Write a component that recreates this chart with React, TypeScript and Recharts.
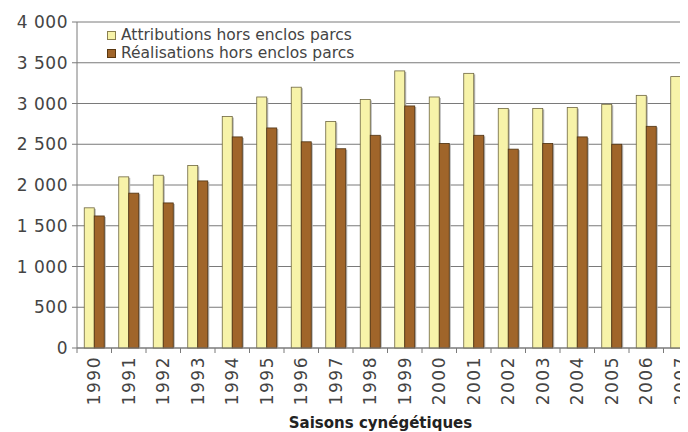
import { BarChart, Bar, XAxis, YAxis, CartesianGrid, Label } from 'recharts';

const years = ['1990', '1991', '1992', '1993', '1994', '1995', '1996', '1997', '1998', '1999', '2000', '2001', '2002', '2003', '2004', '2005', '2006', '2007'];
const attributions = [1720, 2100, 2120, 2240, 2840, 3080, 3200, 2780, 3050, 3400, 3080, 3370, 2940, 2940, 2950, 2990, 3100, 3330];
const realisations = [1620, 1900, 1780, 2050, 2590, 2700, 2530, 2445, 2610, 2970, 2510, 2610, 2440, 2510, 2590, 2500, 2720, 2880];
const yTicks = [0, 500, 1000, 1500, 2000, 2500, 3000, 3500, 4000];

const data = years.map((y, i) => ({ year: y, attr: attributions[i], real: realisations[i] }));

const FONT = '"DejaVu Sans", sans-serif';
const TXT = '#444';
const GRID = '#7a7a7a';
const LIGHT = '#f7f3a9';
const DARK = '#a0652a';

const CHART_W = 690;
const Y_W = 69;
const bandW = (CHART_W - Y_W) / years.length;

const fmt = (v: number) =>
  v >= 1000 ? `${Math.floor(v / 1000)} ${String(v % 1000).padStart(3, '0')}` : String(v);

const YearTick = (props: any) => {
  const { x, y, payload } = props;
  const bx = x - bandW / 2;
  return (
    <g>
      <line x1={bx} y1={y} x2={bx} y2={y + 5} stroke={GRID} />
      <text
        x={0}
        y={0}
        transform={`translate(${x},${y + 8}) rotate(-90)`}
        textAnchor="end"
        dy="0.35em"
        fill={TXT}
        fontSize={17}
        fontFamily={FONT}
        letterSpacing={1.5}
      >
        {payload.value}
      </text>
    </g>
  );
};

const ShadowBar = (props: any) => {
  const { x, y, width, height, fill, stroke } = props;
  if (!height) return null;
  return (
    <g>
      <rect x={x + 1.5} y={y + 1} width={width} height={height - 1} fill="#b5b5b5" />
      <rect x={x} y={y} width={width} height={height} fill={fill} stroke={stroke} strokeWidth={0.8} />
    </g>
  );
};

const legendItems = [
  { label: 'Attributions hors enclos parcs', color: LIGHT, border: '#8a8050' },
  { label: 'Réalisations hors enclos parcs', color: DARK, border: '#5a3810' },
];

const LegendBox = () => (
  <div
    style={{
      position: 'absolute',
      left: 107,
      top: 26,
      fontFamily: FONT,
      fontSize: 15.5,
      color: TXT,
      lineHeight: '18px',
    }}
  >
    {legendItems.map((it) => (
      <div key={it.label} style={{ display: 'flex', alignItems: 'center' }}>
        <span
          style={{
            display: 'inline-block',
            width: 7,
            height: 7,
            background: it.color,
            border: `1px solid ${it.border}`,
            marginRight: 5,
          }}
        />
        {it.label}
      </div>
    ))}
  </div>
);

export default function App() {
  return (
    <div style={{ width: 680, height: 424, overflow: 'hidden', background: '#fff' }}>
      <BarChart
        width={CHART_W}
        height={424}
        data={data}
        margin={{ top: 14, right: 0, left: 0, bottom: 0 }}
        barCategoryGap="21%"
        barGap={0}
      >
        <CartesianGrid vertical={false} stroke={GRID} />
        <XAxis
          dataKey="year"
          height={84}
          tickLine={false}
          tickSize={0}
          tickMargin={0}
          interval={0}
          axisLine={{ stroke: GRID }}
          tick={<YearTick />}
        >
          <Label
            value="Saisons cynégétiques"
            position="insideBottom"
            offset={4}
            dx={-7}
            style={{ fontFamily: FONT, fontSize: 15, fontWeight: 700, fill: '#222' }}
          />
        </XAxis>
        <YAxis
          width={Y_W}
          domain={[0, 4000]}
          ticks={yTicks}
          interval={0}
          tickFormatter={fmt}
          tickSize={5}
          tickMargin={4}
          axisLine={{ stroke: GRID }}
          tickLine={{ stroke: GRID }}
          tick={{ fill: TXT, fontSize: 17, fontFamily: FONT, letterSpacing: 0.5 }}
        />
        <Bar dataKey="attr" fill={LIGHT} stroke="#6e6640" shape={<ShadowBar />} isAnimationActive={false} />
        <Bar dataKey="real" fill={DARK} stroke="#4e3212" shape={<ShadowBar />} isAnimationActive={false} />
      </BarChart>
      <LegendBox />
    </div>
  );
}
